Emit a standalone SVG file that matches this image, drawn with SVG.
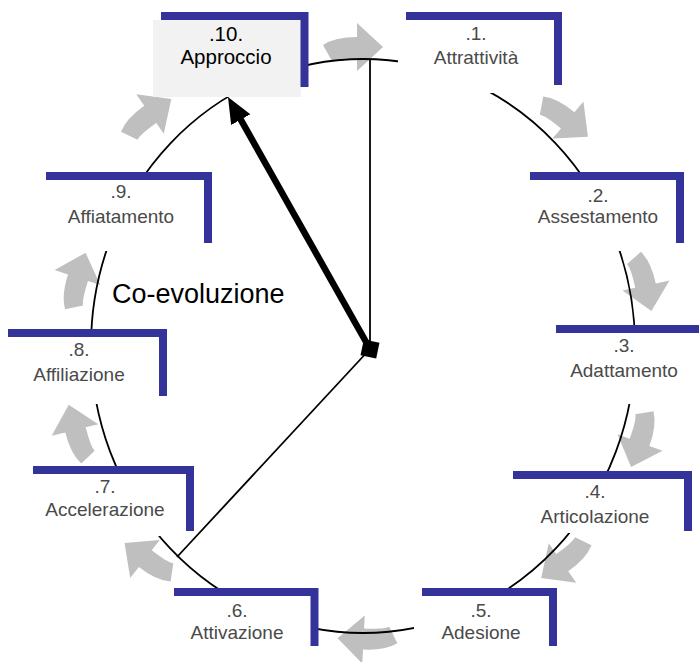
<svg xmlns="http://www.w3.org/2000/svg" xmlns:xlink="http://www.w3.org/1999/xlink" width="699" height="662" viewBox="0 0 699 662">
<style>
.bg{fill:#ffffff}
.bracket{fill:none;stroke:#333399;stroke-width:8;stroke-linejoin:miter;stroke-linecap:butt}
.num,.lbl{font-family:"Liberation Sans",Arial,sans-serif;font-size:19px;fill:#4a4a4a;text-anchor:middle}
.dark{fill:#000000;font-size:20.5px}
.flow{fill:#bfbfbf}
.ring{fill:none;stroke:#000000;stroke-width:1.8}
.thin{fill:none;stroke:#000000;stroke-width:1.8}
.title{font-family:"Liberation Sans",Arial,sans-serif;font-size:27px;fill:#000000}
</style>
<defs>
<path id="carrow" d="M -34,-2 Q -22,-10 0,-10 L 0,-24 L 26,0 L 0,24 L 0,11 Q -20,11 -25,14 Z"/>
<marker id="head" viewBox="0 0 26 22" refX="6" refY="11" markerWidth="26" markerHeight="22" markerUnits="userSpaceOnUse" orient="auto">
<path d="M0,0 L26,11 L0,22 Z" fill="#000000"/>
</marker>
</defs>
<rect width="699" height="662" fill="#ffffff"/>
<g id="flow-arrows" class="flow">
<use xlink:href="#carrow" href="#carrow" transform="translate(357,47) rotate(0)"/>
<use xlink:href="#carrow" href="#carrow" transform="translate(568,120) rotate(40)"/>
<use xlink:href="#carrow" href="#carrow" transform="translate(646,285.5) rotate(78)"/>
<use xlink:href="#carrow" href="#carrow" transform="translate(640,442.5) rotate(110)"/>
<use xlink:href="#carrow" href="#carrow" transform="translate(562.5,563) rotate(145)"/>
<use xlink:href="#carrow" href="#carrow" transform="translate(363.5,639.5) rotate(183)"/>
<use xlink:href="#carrow" href="#carrow" transform="translate(145,559) rotate(218)"/>
<use xlink:href="#carrow" href="#carrow" transform="translate(75,430) rotate(256)"/>
<use xlink:href="#carrow" href="#carrow" transform="translate(77.5,277.5) rotate(288)"/>
<use xlink:href="#carrow" href="#carrow" transform="translate(150,114) rotate(325)"/>
</g>
<g id="connectors">
<ellipse class="ring" cx="363" cy="346" rx="272" ry="287"/>
</g>
<g id="node-10">
<rect x="153" y="20" width="148" height="77" fill="#f2f2f2"/>
<path class="bracket" d="M161,16 H304.5 V87"/>
<text class="num dark" x="226" y="41">.10.</text>
<text class="lbl dark" x="226" y="64">Approccio</text>
</g>
<g id="node-1">
<rect class="bg" x="398" y="20" width="156" height="73"/>
<path class="bracket" d="M406,16 H558 V85"/>
<text class="num" x="476" y="40">.1.</text>
<text class="lbl" x="476" y="64">Attrattività</text>
</g>
<g id="node-2">
<rect class="bg" x="522" y="179" width="154" height="72"/>
<path class="bracket" d="M530,176 H680 V243"/>
<text class="num" x="598" y="202">.2.</text>
<text class="lbl" x="598" y="223">Assestamento</text>
</g>
<g id="node-3">
<rect class="bg" x="548" y="333" width="151" height="71"/>
<path class="bracket" d="M556,329 H703 V400"/>
<text class="num" x="624" y="352">.3.</text>
<text class="lbl" x="624" y="377">Adattamento</text>
</g>
<g id="node-4">
<rect class="bg" x="505" y="479" width="179" height="54"/>
<path class="bracket" d="M513,475 H688 V531"/>
<text class="num" x="595" y="498">.4.</text>
<text class="lbl" x="595" y="523">Articolazione</text>
</g>
<g id="node-5">
<rect class="bg" x="414" y="596" width="134" height="66"/>
<path class="bracket" d="M422,592 H553 V646"/>
<text class="num" x="481" y="617">.5.</text>
<text class="lbl" x="481" y="639">Adesione</text>
</g>
<g id="node-6">
<rect class="bg" x="166" y="596" width="145" height="66"/>
<path class="bracket" d="M174,592 H314.5 V646"/>
<text class="num" x="237" y="617">.6.</text>
<text class="lbl" x="237" y="639">Attivazione</text>
</g>
<g id="node-7">
<rect class="bg" x="25" y="474" width="161" height="62"/>
<path class="bracket" d="M33,470 H190 V531"/>
<text class="num" x="105" y="493">.7.</text>
<text class="lbl" x="105" y="516">Accelerazione</text>
</g>
<g id="node-8">
<rect class="bg" x="0" y="337" width="159" height="67"/>
<path class="bracket" d="M8,333 H163 V396"/>
<text class="num" x="79" y="356">.8.</text>
<text class="lbl" x="79" y="381">Affiliazione</text>
</g>
<g id="node-9">
<rect class="bg" x="38" y="179" width="166" height="72"/>
<path class="bracket" d="M46,176 H208 V243"/>
<text class="num" x="121" y="198">.9.</text>
<text class="lbl" x="121" y="223">Affiatamento</text>
</g>
<g id="hub">
<line class="thin" x1="370" y1="349" x2="370" y2="59"/>
<line class="thin" x1="370" y1="349" x2="177" y2="557"/>
<line x1="370" y1="349" x2="237.8" y2="114.4" stroke="#000000" stroke-width="6.5" marker-end="url(#head)"/>
<rect x="362" y="341" width="16" height="16" fill="#000000" transform="rotate(12 370 349)"/>
</g>
<text class="title" x="112" y="303">Co-evoluzione</text>
</svg>
